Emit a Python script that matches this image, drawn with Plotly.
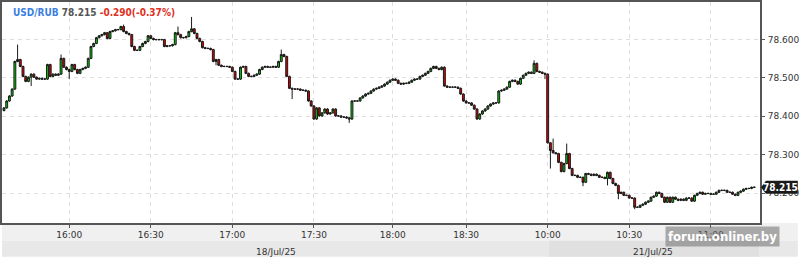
import plotly.graph_objects as go

# ---- data (1-minute bars) ----
closes = [
    78.422, 78.440, 78.453, 78.471, 78.543, 78.548, 78.530, 78.504, 78.491, 78.502,
    78.510, 78.502, 78.497, 78.499, 78.497, 78.497, 78.535, 78.504, 78.510, 78.507,
    78.510, 78.551, 78.528, 78.522, 78.517, 78.535, 78.522, 78.512, 78.522, 78.525,
    78.528, 78.551, 78.582, 78.590, 78.605, 78.610, 78.613, 78.618, 78.603, 78.621,
    78.623, 78.626, 78.626, 78.634, 78.621, 78.616, 78.613, 78.582, 78.572, 78.572,
    78.582, 78.590, 78.595, 78.610, 78.603, 78.600, 78.600, 78.600, 78.600, 78.582,
    78.584, 78.584, 78.587, 78.618, 78.613, 78.605, 78.605, 78.608, 78.621, 78.628,
    78.616, 78.603, 78.595, 78.579, 78.577, 78.577, 78.574, 78.543, 78.548, 78.533,
    78.530, 78.530, 78.530, 78.528, 78.517, 78.497, 78.497, 78.528, 78.530, 78.512,
    78.504, 78.504, 78.507, 78.510, 78.522, 78.528, 78.530, 78.528, 78.528, 78.530,
    78.528, 78.543, 78.561, 78.556, 78.504, 78.473, 78.471, 78.471, 78.471, 78.468,
    78.468, 78.466, 78.440, 78.427, 78.393, 78.422, 78.401, 78.409, 78.419, 78.406,
    78.409, 78.419, 78.401, 78.401, 78.398, 78.398, 78.396, 78.393, 78.440, 78.440,
    78.440, 78.448, 78.453, 78.458, 78.460, 78.466, 78.471, 78.473, 78.476, 78.479,
    78.484, 78.489, 78.494, 78.497, 78.494, 78.486, 78.484, 78.486, 78.486, 78.489,
    78.494, 78.497, 78.497, 78.504, 78.507, 78.512, 78.517, 78.525, 78.530, 78.525,
    78.522, 78.528, 78.479, 78.476, 78.476, 78.476, 78.476, 78.473, 78.458, 78.440,
    78.435, 78.435, 78.429, 78.419, 78.393, 78.406, 78.414, 78.419, 78.427, 78.432,
    78.435, 78.435, 78.466, 78.468, 78.471, 78.476, 78.491, 78.494, 78.491, 78.484,
    78.499, 78.507, 78.512, 78.515, 78.512, 78.538, 78.517, 78.515, 78.512, 78.510,
    78.331, 78.311, 78.305, 78.303, 78.280, 78.256, 78.277, 78.303, 78.264, 78.246,
    78.246, 78.241, 78.241, 78.228, 78.251, 78.249, 78.246, 78.249, 78.246, 78.241,
    78.241, 78.238, 78.254, 78.238, 78.225, 78.220, 78.199, 78.202, 78.194, 78.194,
    78.187, 78.187, 78.163, 78.163, 78.168, 78.171, 78.176, 78.179, 78.189, 78.192,
    78.202, 78.199, 78.189, 78.176, 78.189, 78.176, 78.189, 78.184, 78.181, 78.184,
    78.181, 78.187, 78.187, 78.179, 78.194, 78.199, 78.202, 78.197, 78.199, 78.199,
    78.197, 78.197, 78.202, 78.207, 78.207, 78.207, 78.202, 78.202, 78.197, 78.194,
    78.202, 78.205, 78.210, 78.212, 78.212, 78.215, 78.215,
]
first_open = 78.415
# visible wick extremes (bar index -> value)
wick_highs = {5: 78.587, 21: 78.561, 44: 78.639, 64: 78.634, 69: 78.659,
              102: 78.574, 195: 78.546, 202: 78.342, 207: 78.329}
wick_lows = {10: 78.479, 24: 78.497, 78: 78.533, 106: 78.445, 127: 78.383,
             199: 78.497, 201: 78.264, 213: 78.218, 222: 78.220, 226: 78.184,
             232: 78.158}
tick_idx = [24, 54, 84, 114, 143, 170, 200, 230, 260]
tick_text = ["16:00", "16:30", "17:00", "17:30", "18:00", "18:30", "10:00", "10:30", "11:00"]
y_ticks = [78.2, 78.3, 78.4, 78.5, 78.6]
y_tick_text = ["78.200", "78.300", "78.400", "78.500", "78.600"]
last_price = 78.215
title_pair = "USD/RUB"
title_last = "78.215"
title_change = "-0.290(-0.37%)"
date_labels = ["18/Jul/25", "21/Jul/25"]

WICK = 0.002  # small default wick
n = len(closes)
x = list(range(n))
opens = [first_open] + closes[:-1]
highs = [wick_highs.get(i, max(opens[i], closes[i]) + WICK) for i in range(n)]
lows = [wick_lows.get(i, min(opens[i], closes[i]) - WICK) for i in range(n)]

W, H = 800, 257
PL, PR, PT, PB = 0, 762, 0, 223  # plot area in px
pw, ph = PR - PL, PB - PT
FONT = "DejaVu Sans"
FONT_C = "DejaVu Sans Condensed"

def px_x(p):
    return (p - PL) / pw

def px_y(p):
    return (PB - p) / ph

fig = go.Figure(go.Candlestick(
    x=x, open=opens, high=highs, low=lows, close=closes,
    increasing=dict(fillcolor="#00cc00", line=dict(color="#1a1a1a", width=1)),
    decreasing=dict(fillcolor="#dd0000", line=dict(color="#1a1a1a", width=1)),
    whiskerwidth=0, hoverinfo="skip",
))

shapes = [
    dict(type="rect", xref="paper", yref="paper", x0=px_x(0), x1=px_x(W), y0=px_y(223), y1=px_y(241),
         fillcolor="#f0f0f0", line_width=0, layer="below"),
    dict(type="rect", xref="paper", yref="paper", x0=px_x(0), x1=px_x(W), y0=px_y(241), y1=px_y(257),
         fillcolor="#e8e8e8", line_width=0, layer="below"),
    dict(type="rect", xref="paper", yref="paper", x0=px_x(550), x1=px_x(761), y0=px_y(241), y1=px_y(257),
         fillcolor="#e0e0e0", line_width=0, layer="below"),
]
# price marker arrow
dy = 0.0170
shapes.append(dict(type="path", xref="paper", yref="y",
                   path=f"M {px_x(763)},{last_price} L {px_x(768)},{last_price+dy} L {px_x(800)},{last_price+dy} "
                        f"L {px_x(800)},{last_price-dy} L {px_x(768)},{last_price-dy} Z",
                   fillcolor="#1a1a1a", line_width=0, layer="above"))

annotations = [
    dict(xref="paper", yref="paper", x=px_x(9), y=px_y(11), xanchor="left", yanchor="middle", showarrow=False,
         text=f"<b><span style='color:#3d7fe0'>{title_pair}</span> <span style='color:#555555'>{title_last}</span> "
              f"<span style='color:#e0301e'>{title_change}</span></b>",
         font=dict(family=FONT_C, size=10)),
    dict(xref="paper", yref="paper", x=px_x(275), y=px_y(252), showarrow=False, text=date_labels[0],
         xanchor="center", yanchor="middle",
         font=dict(family=FONT, size=9, color="#333333")),
    dict(xref="paper", yref="paper", x=px_x(654), y=px_y(252), showarrow=False, text=date_labels[1],
         xanchor="center", yanchor="middle",
         font=dict(family=FONT, size=9, color="#333333")),
    dict(xref="paper", yref="y", x=px_x(783), y=last_price, showarrow=False, text=f"<b>{last_price:.3f}</b>",
         font=dict(family=FONT_C, size=10, color="white"), xanchor="center", yanchor="middle"),
    dict(xref="paper", yref="paper", x=px_x(724), y=px_y(237), showarrow=False, text="<b>forum.onliner.by</b>",
         font=dict(family=FONT_C, size=13, color="white"), bgcolor="rgba(110,110,110,0.55)",
         borderpad=2, xanchor="center", yanchor="middle"),
]

axis_common = dict(ticks="outside", ticklen=3, tickcolor="#555555",
                   showgrid=True, gridcolor="#dedede", griddash="4px,4px", gridwidth=1,
                   showline=True, linecolor="#555555", linewidth=2, mirror=True, zeroline=False,
                   tickfont=dict(family=FONT, size=9, color="#333333"))

fig.update_layout(
    width=W, height=H,
    margin=dict(l=PL, r=W - PR, t=PT, b=H - PB, pad=0),
    paper_bgcolor="white", plot_bgcolor="white",
    showlegend=False, boxgap=0,
    shapes=shapes, annotations=annotations,
    xaxis=dict(range=[-0.73, 278.1], rangeslider=dict(visible=False), tickmode="array",
               tickvals=tick_idx, ticktext=tick_text, ticklabelstandoff=-1, **axis_common),
    yaxis=dict(range=[78.122, 78.698], side="right", tickmode="array", tickvals=y_ticks, ticktext=y_tick_text,
               ticklabelstandoff=1, **axis_common),
)

fig.write_html("out.html")
